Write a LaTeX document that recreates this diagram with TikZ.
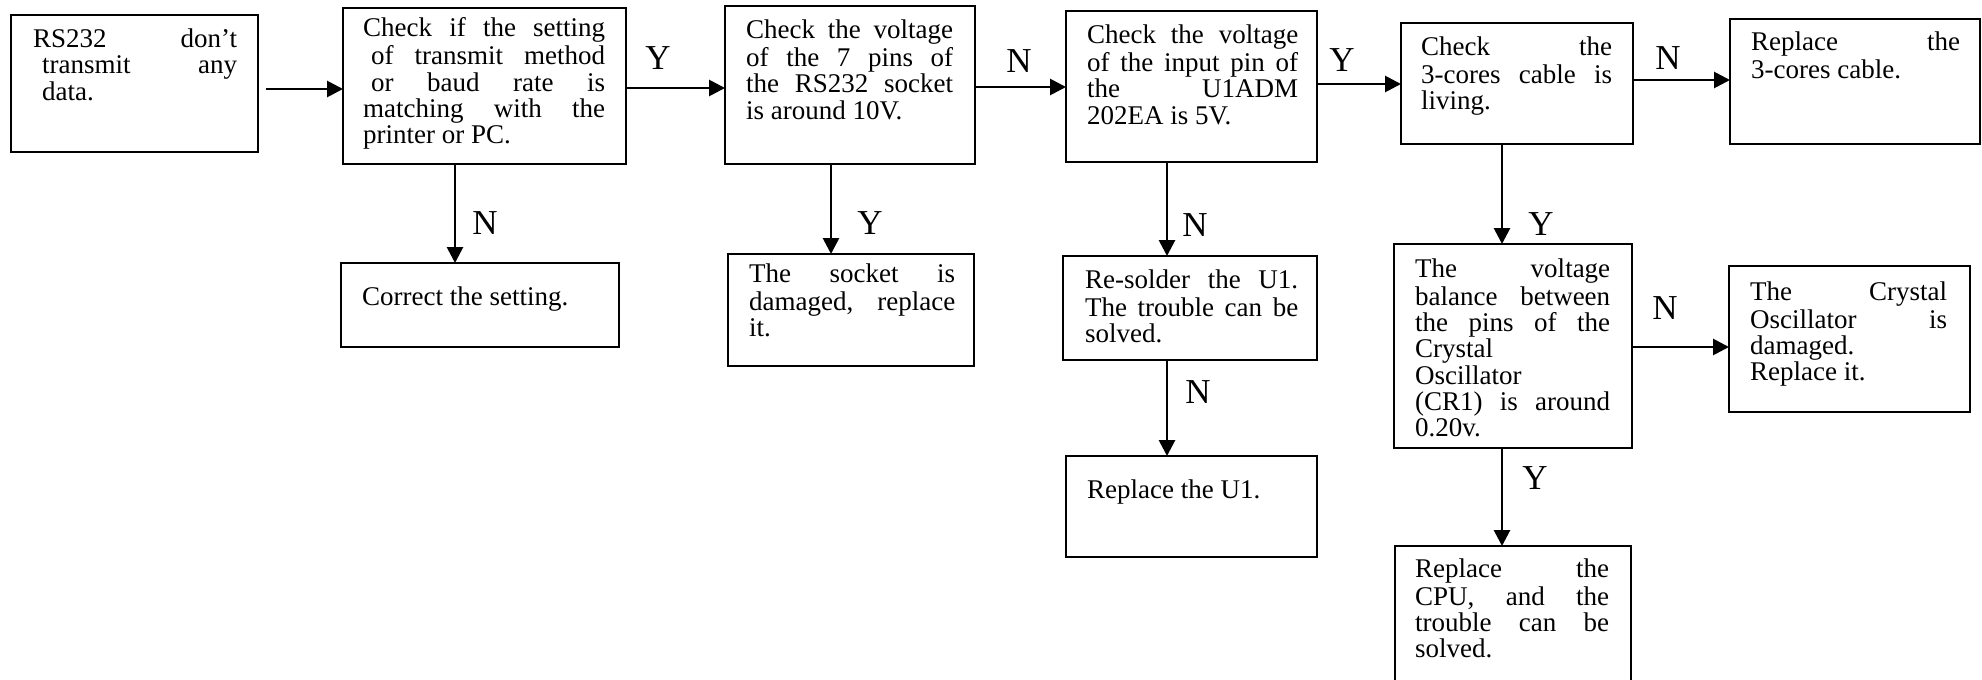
\documentclass[tikz,border=0pt]{standalone}
\usepackage{fontspec}
\setmainfont{Liberation Serif}
\usetikzlibrary{arrows.meta,calc}
\begin{document}
\begin{tikzpicture}[x=1pt,y=-1pt,
  box/.style={draw, line width=2.4pt, inner sep=0pt, outer sep=0pt, anchor=north west},
  txt/.style={inner sep=0pt, anchor=north west, align=justify,
    font=\fontsize{27}{26.3}\selectfont,
    execute at begin node={\parindent0pt\tolerance10000\hyphenpenalty10000\exhyphenpenalty10000\strut}},
  lbl/.style={inner sep=0pt, font=\fontsize{35}{40}\selectfont},
  arr/.style={line width=2.8pt, -{Triangle[length=16pt,width=16pt]}}]
\path[use as bounding box] (0,0) rectangle (1982,680);
\clip (0,0) rectangle (1982,680);

% boxes
\node[box, minimum width=247pt, minimum height=137pt] (b1) at (11,15) {};
\node[box, minimum width=283pt, minimum height=156pt] (b2) at (343,8) {};
\node[box, minimum width=250pt, minimum height=158pt] (b3) at (725,6) {};
\node[box, minimum width=251pt, minimum height=151pt] (b4) at (1066,11) {};
\node[box, minimum width=232pt, minimum height=121pt] (b5) at (1401,23) {};
\node[box, minimum width=250pt, minimum height=125pt] (b6) at (1730,19) {};
\node[box, minimum width=278pt, minimum height=84pt] (b7) at (341,263) {};
\node[box, minimum width=246pt, minimum height=112pt] (b8) at (728,254) {};
\node[box, minimum width=254pt, minimum height=104pt] (b9) at (1063,256) {};
\node[box, minimum width=251pt, minimum height=101pt] (b10) at (1066,456) {};
\node[box, minimum width=238pt, minimum height=204pt] (b11) at (1394,244) {};
\node[box, minimum width=241pt, minimum height=146pt] (b12) at (1729,266) {};
\node[box, minimum width=236pt, minimum height=170pt] (b13) at (1395,546) {};

% texts
\node[txt, text width=204pt] (t1) at ($(b1.north west)+(22,13.6)$)
  {RS232 don’t\linebreak\hspace*{9pt}transmit any\linebreak\hspace*{9pt}data.};
\node[txt, text width=242pt] (t2) at ($(b2.north west)+(20,9.6)$)
  {Check if the setting\linebreak\hspace*{8pt}of transmit method\linebreak\hspace*{8pt}or baud rate is\linebreak matching with the\linebreak printer or PC.};
\node[txt, text width=207pt] (t3) at ($(b3.north west)+(21,13.6)$)
  {Check the voltage\linebreak of the 7 pins of\linebreak the RS232 socket\linebreak is around 10V.};
\node[txt, text width=211pt] (t4) at ($(b4.north west)+(21,13.6)$)
  {Check the voltage\linebreak of the input pin of\linebreak the U1ADM\linebreak 202EA is 5V.};
\node[txt, text width=191pt] (t5) at ($(b5.north west)+(20,13.6)$)
  {Check the\linebreak 3-cores cable is\linebreak living.};
\node[txt, text width=209pt] (t6) at ($(b6.north west)+(21,12.6)$)
  {Replace the\linebreak 3-cores cable.};
\node[txt, text width=240pt] (t7) at ($(b7.north west)+(21,23.6)$)
  {Correct the setting.};
\node[txt, text width=206pt] (t8) at ($(b8.north west)+(21,9.6)$)
  {The socket is\linebreak damaged, replace\linebreak it.};
\node[txt, text width=213pt] (t9) at ($(b9.north west)+(22,13.6)$)
  {Re-solder the U1.\linebreak The trouble can be\linebreak solved.};
\node[txt, text width=213pt] (t10) at ($(b10.north west)+(21,23.6)$)
  {Replace the U1.};
\node[txt, text width=195pt] (t11) at ($(b11.north west)+(21,14.6)$)
  {The voltage\linebreak balance between\linebreak the pins of the\linebreak Crystal\linebreak Oscillator\linebreak (CR1) is around\linebreak 0.20v.};
\node[txt, text width=197pt] (t12) at ($(b12.north west)+(21,15.6)$)
  {The Crystal\linebreak Oscillator is\linebreak damaged.\linebreak Replace it.};
\node[txt, text width=194pt] (t13) at ($(b13.north west)+(20,12.6)$)
  {Replace the\linebreak CPU, and the\linebreak trouble can be\linebreak solved.};

% labels
\node[lbl] (l1) at (658,58) {Y};
\node[lbl] (l2) at (1019,61) {N};
\node[lbl] (l3) at (1342,60) {Y};
\node[lbl] (l4) at (1668,58) {N};
\node[lbl] (l5) at (485,223) {N};
\node[lbl] (l6) at (870,223) {Y};
\node[lbl] (l7) at (1195,225) {N};
\node[lbl] (l8) at (1198,392) {N};
\node[lbl] (l9) at (1541,224) {Y};
\node[lbl] (l10) at (1665,308) {N};
\node[lbl] (l11) at (1535,478) {Y};

% helper coordinates
\coordinate (s1) at (266,89);
\coordinate (h1) at (0,89);
\coordinate (h2) at (0,88);
\coordinate (h3) at (0,87);
\coordinate (h4) at (0,84);
\coordinate (h5) at (0,80);
\coordinate (h6) at (0,347);
\coordinate (v1) at (455,0);
\coordinate (v2) at (831,0);
\coordinate (v3) at (1167,0);
\coordinate (v4) at (1502,0);

% connectors
\draw[arr] (s1) -- (b2.west|-h1);
\draw[arr] (b2.east|-h2) -- (b3.west|-h2);
\draw[arr] (b3.east|-h3) -- (b4.west|-h3);
\draw[arr] (b4.east|-h4) -- (b5.west|-h4);
\draw[arr] (b5.east|-h5) -- (b6.west|-h5);
\draw[arr] (b11.east|-h6) -- (b12.west|-h6);
\draw[arr] (b2.south-|v1) -- (b7.north-|v1);
\draw[arr] (b3.south-|v2) -- (b8.north-|v2);
\draw[arr] (b4.south-|v3) -- (b9.north-|v3);
\draw[arr] (b9.south-|v3) -- (b10.north-|v3);
\draw[arr] (b5.south-|v4) -- (b11.north-|v4);
\draw[arr] (b11.south-|v4) -- (b13.north-|v4);
\end{tikzpicture}
\end{document}
